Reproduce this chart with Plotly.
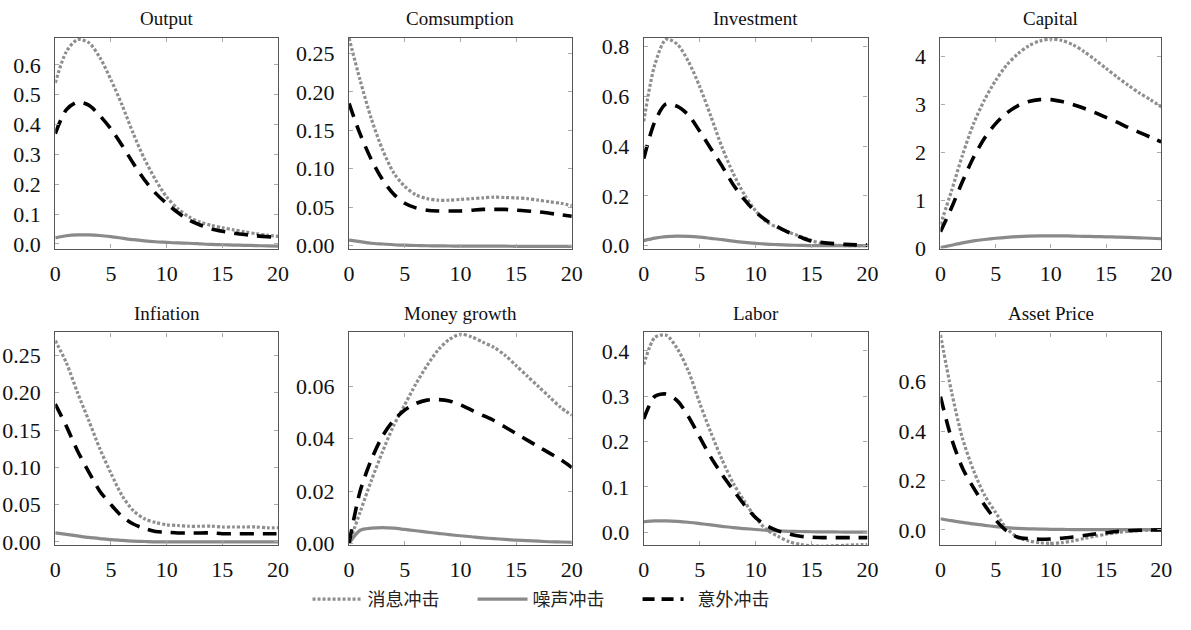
import plotly.graph_objects as go

periods = list(range(21))

panel_titles = ["Output", "Comsumption", "Investment", "Capital",
                "Infiation", "Money growth", "Labor", "Asset Price"]

series_names = ["消息冲击", "噪声冲击", "意外冲击"]

# impulse responses: news shock (dotted), noise shock (solid), surprise shock (dashed)
output_news = [0.54, 0.645, 0.685, 0.675, 0.625, 0.55, 0.465, 0.37, 0.285, 0.215, 0.157,
               0.118, 0.09, 0.073, 0.062, 0.054, 0.047, 0.04, 0.034, 0.029, 0.025]
output_noise = [0.02, 0.027, 0.03, 0.03, 0.028, 0.024, 0.019, 0.014, 0.01, 0.007, 0.005,
                0.003, 0.002, 0.0, -0.002, -0.003, -0.004, -0.005, -0.006, -0.007, -0.008]
output_surprise = [0.37, 0.45, 0.475, 0.465, 0.43, 0.385, 0.33, 0.27, 0.215, 0.17, 0.135,
                   0.105, 0.08, 0.063, 0.05, 0.042, 0.036, 0.031, 0.027, 0.024, 0.022]

cons_news = [0.27, 0.215, 0.165, 0.125, 0.095, 0.077, 0.066, 0.061, 0.059, 0.059, 0.06,
             0.061, 0.062, 0.063, 0.0625, 0.062, 0.061, 0.059, 0.057, 0.055, 0.052]
cons_noise = [0.007, 0.005, 0.003, 0.002, 0.001, 0.0005, 0.0, -0.0003, -0.0005, -0.0006, -0.0007,
              -0.0008, -0.0008, -0.0009, -0.0009, -0.001, -0.001, -0.001, -0.001, -0.001, -0.001]
cons_surprise = [0.185, 0.145, 0.112, 0.086, 0.067, 0.055, 0.049, 0.046, 0.045, 0.045, 0.045,
                 0.046, 0.047, 0.047, 0.047, 0.046, 0.045, 0.044, 0.042, 0.040, 0.038]

inv_news = [0.50, 0.73, 0.83, 0.81, 0.74, 0.64, 0.52, 0.395, 0.29, 0.205, 0.14,
            0.095, 0.072, 0.053, 0.037, 0.02, 0.008, 0.002, 0.0, 0.0, 0.0]
inv_noise = [0.02, 0.03, 0.036, 0.038, 0.037, 0.034, 0.029, 0.024, 0.018, 0.013, 0.009,
             0.006, 0.004, 0.002, 0.001, 0.0, 0.0, 0.0, 0.0, 0.0, 0.0]
inv_surprise = [0.35, 0.50, 0.57, 0.56, 0.525, 0.46, 0.39, 0.32, 0.245, 0.185, 0.135,
                0.10, 0.075, 0.052, 0.034, 0.018, 0.012, 0.008, 0.005, 0.003, 0.002]

cap_news = [0.5, 1.2, 1.95, 2.6, 3.1, 3.5, 3.82, 4.05, 4.22, 4.32, 4.36,
            4.33, 4.24, 4.1, 3.93, 3.75, 3.57, 3.4, 3.24, 3.1, 2.95]
cap_noise = [0.02, 0.07, 0.12, 0.16, 0.19, 0.215, 0.235, 0.25, 0.26, 0.265, 0.265,
             0.265, 0.26, 0.255, 0.25, 0.245, 0.24, 0.235, 0.225, 0.215, 0.205]
cap_surprise = [0.35, 0.85, 1.4, 1.9, 2.3, 2.6, 2.82, 2.97, 3.06, 3.1, 3.1,
                3.06, 3.0, 2.92, 2.83, 2.73, 2.63, 2.52, 2.42, 2.32, 2.22]

infl_news = [0.27, 0.24, 0.20, 0.163, 0.125, 0.092, 0.062, 0.042, 0.031, 0.026, 0.023,
             0.022, 0.021, 0.021, 0.021, 0.02, 0.02, 0.02, 0.02, 0.019, 0.019]
infl_noise = [0.012, 0.01, 0.008, 0.006, 0.0045, 0.003, 0.002, 0.001, 0.0005, 0.0, 0.0,
              0.0, 0.0, 0.0, 0.0, 0.0, 0.0, 0.0, 0.0, 0.0, 0.0]
infl_surprise = [0.185, 0.155, 0.122, 0.094, 0.068, 0.05, 0.034, 0.024, 0.018, 0.014, 0.013,
                 0.012, 0.012, 0.012, 0.012, 0.011, 0.011, 0.011, 0.011, 0.011, 0.011]

money_news = [0.0, 0.012, 0.024, 0.035, 0.045, 0.053, 0.061, 0.068, 0.074, 0.078, 0.08,
              0.079, 0.077, 0.075, 0.072, 0.068, 0.064, 0.06, 0.056, 0.052, 0.049]
money_noise = [0.0, 0.005, 0.0058, 0.006, 0.0058, 0.0053, 0.0048, 0.0043, 0.0038, 0.0033, 0.0029,
               0.0025, 0.0021, 0.0018, 0.0015, 0.0012, 0.001, 0.0008, 0.0006, 0.0005, 0.0004]
money_surprise = [0.0, 0.02, 0.032, 0.041, 0.047, 0.051, 0.0535, 0.0548, 0.055, 0.0545, 0.053,
                  0.051, 0.049, 0.047, 0.0445, 0.042, 0.0395, 0.037, 0.0345, 0.032, 0.029]

labor_news = [0.37, 0.43, 0.435, 0.405, 0.355, 0.285, 0.22, 0.16, 0.108, 0.068, 0.032,
              0.005, -0.009, -0.021, -0.027, -0.03, -0.031, -0.03, -0.029, -0.028, -0.027]
labor_noise = [0.023, 0.025, 0.025, 0.024, 0.022, 0.019, 0.016, 0.013, 0.01, 0.008, 0.006,
               0.004, 0.003, 0.002, 0.0015, 0.001, 0.0008, 0.0005, 0.0003, 0.0001, 0.0]
labor_surprise = [0.25, 0.30, 0.305, 0.29, 0.255, 0.21, 0.165, 0.127, 0.093, 0.06, 0.032,
                  0.014, 0.003, -0.004, -0.009, -0.011, -0.012, -0.012, -0.012, -0.012, -0.012]

asset_news = [0.79, 0.56, 0.37, 0.24, 0.14, 0.07, 0.005, -0.03, -0.045, -0.052, -0.055,
              -0.052, -0.045, -0.035, -0.026, -0.018, -0.011, -0.006, -0.003, -0.001, 0.0]
asset_noise = [0.045, 0.037, 0.03, 0.024, 0.018, 0.013, 0.009, 0.006, 0.004, 0.003, 0.002,
               0.0015, 0.001, 0.001, 0.001, 0.001, 0.001, 0.001, 0.001, 0.001, 0.001]
asset_surprise = [0.54, 0.37, 0.25, 0.17, 0.10, 0.04, -0.005, -0.03, -0.036, -0.038, -0.037,
                  -0.034, -0.029, -0.023, -0.017, -0.012, -0.007, -0.004, -0.002, -0.001, 0.0]

panel_series = [
    (output_news, output_noise, output_surprise),
    (cons_news, cons_noise, cons_surprise),
    (inv_news, inv_noise, inv_surprise),
    (cap_news, cap_noise, cap_surprise),
    (infl_news, infl_noise, infl_surprise),
    (money_news, money_noise, money_surprise),
    (labor_news, labor_noise, labor_surprise),
    (asset_news, asset_noise, asset_surprise),
]

y_ranges = [(-0.016, 0.69), (-0.004, 0.27), (-0.012, 0.835), (0.0, 4.38),
            (-0.004, 0.281), (-0.0006, 0.0807), (-0.028, 0.441), (-0.061, 0.80)]
y_ticks = [
    ([0, 0.1, 0.2, 0.3, 0.4, 0.5, 0.6], ["0.0", "0.1", "0.2", "0.3", "0.4", "0.5", "0.6"]),
    ([0, 0.05, 0.1, 0.15, 0.2, 0.25], ["0.00", "0.05", "0.10", "0.15", "0.20", "0.25"]),
    ([0, 0.2, 0.4, 0.6, 0.8], ["0.0", "0.2", "0.4", "0.6", "0.8"]),
    ([0, 1, 2, 3, 4], ["0", "1", "2", "3", "4"]),
    ([0, 0.05, 0.1, 0.15, 0.2, 0.25], ["0.00", "0.05", "0.10", "0.15", "0.20", "0.25"]),
    ([0, 0.02, 0.04, 0.06], ["0.00", "0.02", "0.04", "0.06"]),
    ([0, 0.1, 0.2, 0.3, 0.4], ["0.0", "0.1", "0.2", "0.3", "0.4"]),
    ([0, 0.2, 0.4, 0.6], ["0.0", "0.2", "0.4", "0.6"]),
]
x_ticks = [0, 5, 10, 15, 20]

W, H = 1191, 630
col_px = [(50, 276), (348, 574), (647, 874), (948, 1172)]
row_px = [(36, 252), (338, 556)]

styles = [
    dict(color="#8e8e8e", width=3.2, dash="3px,2px"),
    dict(color="#8a8a8a", width=3.2, dash="solid"),
    dict(color="#000000", width=3.6, dash="14px,9px"),
]
legend_dash = ["3px,2px", "solid", "12px,7px,12px,7px,3px,20px"]

serif = "Liberation Serif, Times New Roman, serif"
fig = go.Figure()
layout = dict(width=W, height=H, margin=dict(l=0, r=0, t=0, b=0),
              paper_bgcolor="white", plot_bgcolor="white", annotations=[])

for i, title in enumerate(panel_titles):
    r, c = divmod(i, 4)
    n = i + 1
    xa = "x" if n == 1 else f"x{n}"
    ya = "y" if n == 1 else f"y{n}"
    x0, x1 = col_px[c]
    t0, t1 = row_px[r]
    for k, (vals, st) in enumerate(zip(panel_series[i], styles)):
        fig.add_trace(go.Scatter(
            x=periods, y=vals, mode="lines", name=series_names[k],
            line=dict(color=st["color"], width=st["width"], dash=st["dash"],
                      shape="spline", smoothing=0.8),
            xaxis=xa, yaxis=ya, showlegend=False, cliponaxis=True))
    axis_common = dict(showgrid=False, zeroline=False, showline=True, mirror="ticks",
                       linecolor="#555555", linewidth=1.3, ticks="inside", ticklen=4,
                       tickcolor="#aaaaaa", tickfont=dict(family=serif, size=22, color="#111"))
    layout["xaxis" if n == 1 else f"xaxis{n}"] = dict(
        axis_common, domain=[x0 / W, x1 / W], range=[0, 20], tickvals=x_ticks,
        anchor=ya, fixedrange=True, ticklabelstandoff=5)
    tv, tt = y_ticks[i]
    layout["yaxis" if n == 1 else f"yaxis{n}"] = dict(
        axis_common, domain=[1 - t1 / H, 1 - t0 / H], range=list(y_ranges[i]),
        tickvals=tv, ticktext=tt, anchor=xa, ticklabelstandoff=9)
    layout["annotations"].append(dict(
        text=title, x=(x0 + x1) / 2 / W, y=1 - t0 / H + 7 / H, xref="paper", yref="paper",
        xanchor="center", yanchor="bottom", showarrow=False,
        font=dict(family=serif, size=19, color="#111")))

# legend entries
for k, name in enumerate(series_names):
    st = styles[k]
    fig.add_trace(go.Scatter(
        x=[None], y=[None], mode="lines", name=name,
        line=dict(color=st["color"], width=st["width"], dash=legend_dash[k]),
        showlegend=True))

layout["legend"] = dict(orientation="h", x=557 / W, xanchor="center", y=1 - 612 / H,
                        yanchor="middle", font=dict(family="Noto Sans CJK SC", size=18, color="#222"),
                        itemwidth=50, entrywidth=100, tracegroupgap=0, bgcolor="rgba(0,0,0,0)")
fig.update_layout(**layout)
fig.write_html("out.html")
